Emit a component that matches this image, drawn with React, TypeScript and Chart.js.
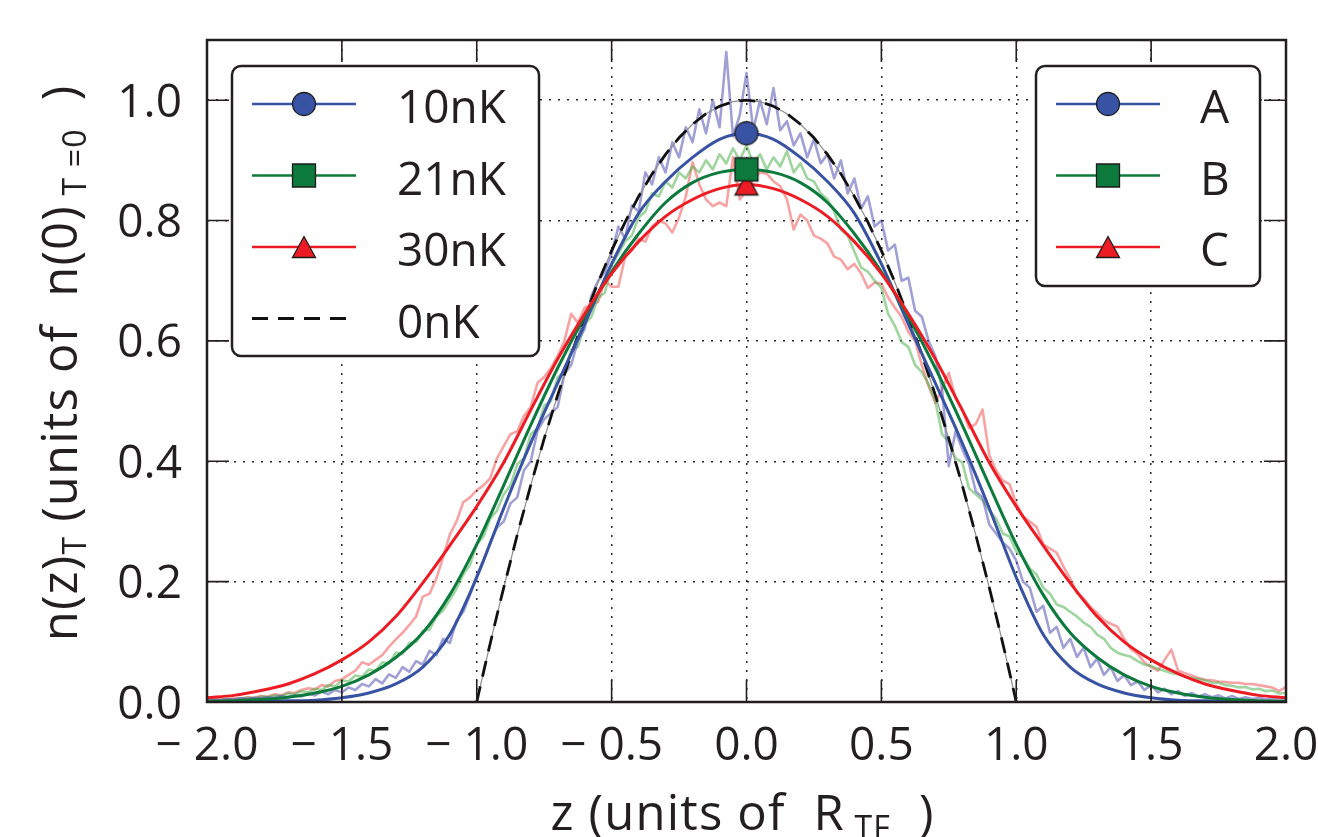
import { useEffect, useRef } from 'react';
import { Chart, registerables } from 'chart.js';

Chart.register(...registerables);

// Measured axial density profiles, sampled every PROFILE_DZ from PROFILE_Z0
const PROFILE_Z0 = -2;
const PROFILE_DZ = 0.025;

const PROFILE_A = [
  0.003, 0.004, 0.003, 0.005, 0.004, 0.006, 0.005, 0.007, 0.006, 0.008,
  0.007, 0.010, 0.008, 0.011, 0.009, 0.014, 0.011, 0.017, 0.013, 0.020,
  0.016, 0.024, 0.020, 0.030, 0.026, 0.038, 0.031, 0.046, 0.040, 0.058,
  0.050, 0.068, 0.062, 0.085, 0.078, 0.105, 0.098, 0.135, 0.150, 0.178,
  0.210, 0.236, 0.265, 0.290, 0.300, 0.330, 0.340, 0.385, 0.400, 0.450,
  0.470, 0.480, 0.490, 0.545, 0.560, 0.600, 0.620, 0.675, 0.700, 0.715,
  0.745, 0.790, 0.770, 0.825, 0.815, 0.880, 0.860, 0.905, 0.880, 0.930,
  0.905, 0.955, 0.930, 0.985, 0.945, 1.000, 0.955, 1.080, 0.940, 0.975,
  1.045,
  0.950, 1.000, 0.960, 1.020, 0.950, 0.965, 0.925, 0.945, 0.905, 0.935,
  0.895, 0.910, 0.870, 0.900, 0.845, 0.870, 0.820, 0.840, 0.790, 0.800,
  0.750, 0.760, 0.700, 0.705, 0.650, 0.640, 0.600, 0.575, 0.520, 0.392,
  0.450, 0.420, 0.395, 0.350, 0.340, 0.295, 0.280, 0.265, 0.255, 0.235,
  0.200, 0.190, 0.150, 0.160, 0.115, 0.125, 0.090, 0.105, 0.075, 0.090,
  0.058, 0.072, 0.045, 0.058, 0.035, 0.045, 0.028, 0.034, 0.020, 0.028,
  0.016, 0.022, 0.013, 0.018, 0.010, 0.015, 0.009, 0.013, 0.008, 0.011,
  0.006, 0.010, 0.005, 0.008, 0.005, 0.007, 0.004, 0.006, 0.004, 0.004,
];

const PROFILE_B = [
  0.003, 0.004, 0.003, 0.005, 0.004, 0.006, 0.007, 0.006, 0.009, 0.008,
  0.011, 0.010, 0.014, 0.013, 0.018, 0.016, 0.022, 0.020, 0.028, 0.026,
  0.036, 0.034, 0.044, 0.042, 0.054, 0.052, 0.066, 0.064, 0.082, 0.080,
  0.098, 0.100, 0.118, 0.120, 0.142, 0.152, 0.170, 0.188, 0.212, 0.228,
  0.262, 0.275, 0.305, 0.318, 0.345, 0.360, 0.395, 0.405, 0.445, 0.455,
  0.492, 0.500, 0.540, 0.548, 0.585, 0.590, 0.628, 0.640, 0.672, 0.680,
  0.725, 0.745, 0.765, 0.775, 0.805, 0.815, 0.845, 0.840, 0.865, 0.855,
  0.880, 0.870, 0.890, 0.880, 0.900, 0.885, 0.910, 0.895, 0.920, 0.900,
  0.925,
  0.895, 0.910, 0.885, 0.905, 0.890, 0.915, 0.880, 0.895, 0.870, 0.865,
  0.845, 0.835, 0.815, 0.785, 0.775, 0.748, 0.722, 0.715, 0.700, 0.688,
  0.645, 0.625, 0.598, 0.590, 0.560, 0.548, 0.528, 0.500, 0.445, 0.432,
  0.405, 0.398, 0.355, 0.345, 0.335, 0.318, 0.305, 0.280, 0.275, 0.250,
  0.240, 0.222, 0.212, 0.190, 0.180, 0.162, 0.158, 0.150, 0.142, 0.132,
  0.125, 0.112, 0.105, 0.090, 0.082, 0.078, 0.075, 0.068, 0.062, 0.060,
  0.055, 0.052, 0.048, 0.046, 0.042, 0.040, 0.038, 0.036, 0.032, 0.032,
  0.028, 0.027, 0.024, 0.025, 0.021, 0.022, 0.018, 0.019, 0.014, 0.015,
];

const PROFILE_C = [
  0.004, 0.003, 0.005, 0.004, 0.006, 0.005, 0.008, 0.007, 0.010, 0.009,
  0.013, 0.011, 0.016, 0.015, 0.020, 0.023, 0.021, 0.028, 0.026, 0.035,
  0.038, 0.045, 0.052, 0.066, 0.062, 0.070, 0.078, 0.092, 0.104, 0.115,
  0.128, 0.142, 0.175, 0.180, 0.205, 0.240, 0.278, 0.300, 0.332, 0.340,
  0.352, 0.360, 0.372, 0.405, 0.425, 0.445, 0.450, 0.475, 0.490, 0.530,
  0.540, 0.555, 0.575, 0.600, 0.645, 0.630, 0.655, 0.660, 0.665, 0.700,
  0.690, 0.690, 0.740, 0.750, 0.770, 0.765, 0.790, 0.800, 0.795, 0.780,
  0.805, 0.840, 0.897, 0.860, 0.835, 0.824, 0.830, 0.824, 0.905, 0.835,
  0.850,
  0.868, 0.880, 0.878, 0.865, 0.857, 0.835, 0.785, 0.810, 0.800, 0.775,
  0.770, 0.762, 0.740, 0.735, 0.719, 0.728, 0.712, 0.688, 0.697, 0.695,
  0.672, 0.655, 0.640, 0.615, 0.600, 0.560, 0.525, 0.497, 0.520, 0.547,
  0.505, 0.486, 0.455, 0.462, 0.486, 0.410, 0.385, 0.368, 0.362, 0.330,
  0.308, 0.300, 0.291, 0.262, 0.255, 0.248, 0.225, 0.205, 0.181, 0.172,
  0.158, 0.148, 0.136, 0.130, 0.125, 0.105, 0.088, 0.080, 0.066, 0.058,
  0.052, 0.070, 0.087, 0.052, 0.048, 0.044, 0.040, 0.037, 0.036, 0.034,
  0.033, 0.032, 0.032, 0.030, 0.030, 0.028, 0.026, 0.024, 0.018, 0.025,
];

// Fitted finite-temperature profiles
const FIT_Z = [
  -2.0, -1.9, -1.8, -1.7, -1.6, -1.5, -1.4, -1.3, -1.2, -1.1, -1.0,
  -0.9, -0.8, -0.7, -0.6, -0.5, -0.4, -0.3, -0.2, -0.1, 0.0,
  0.1, 0.2, 0.3, 0.4, 0.5, 0.6, 0.7, 0.8, 0.9, 1.0,
  1.1, 1.2, 1.3, 1.4, 1.5, 1.6, 1.7, 1.8, 1.9, 2.0,
];
const FIT_A = [
  0.000, 0.000, 0.001, 0.002, 0.003, 0.007, 0.015, 0.030, 0.058, 0.112, 0.207,
  0.322, 0.430, 0.530, 0.628, 0.728, 0.812, 0.865, 0.905, 0.935, 0.945,
  0.935, 0.905, 0.865, 0.812, 0.728, 0.628, 0.530, 0.430, 0.322, 0.207,
  0.112, 0.058, 0.030, 0.015, 0.007, 0.003, 0.002, 0.001, 0.000, 0.000,
];
const FIT_B = [
  0.001, 0.002, 0.004, 0.008, 0.015, 0.026, 0.045, 0.074, 0.115, 0.178, 0.262,
  0.360, 0.460, 0.555, 0.640, 0.715, 0.778, 0.830, 0.863, 0.880, 0.885,
  0.880, 0.863, 0.830, 0.778, 0.715, 0.640, 0.555, 0.460, 0.360, 0.262,
  0.178, 0.115, 0.074, 0.045, 0.026, 0.015, 0.008, 0.004, 0.002, 0.001,
];
const FIT_C = [
  0.007, 0.011, 0.019, 0.030, 0.047, 0.070, 0.100, 0.142, 0.198, 0.260, 0.325,
  0.398, 0.485, 0.570, 0.645, 0.712, 0.765, 0.807, 0.835, 0.853, 0.860,
  0.853, 0.835, 0.807, 0.765, 0.712, 0.645, 0.570, 0.485, 0.398, 0.325,
  0.260, 0.198, 0.142, 0.100, 0.070, 0.047, 0.030, 0.019, 0.011, 0.007,
];
const CENTER_INDEX = 20;

// Zero-temperature Thomas-Fermi profile
const TF_Z = [
  -1, -0.998, -0.995, -0.99, -0.98, -0.97, -0.96, -0.94, -0.92, -0.9,
  -0.85, -0.8, -0.75, -0.7, -0.65, -0.6, -0.55, -0.5, -0.45, -0.4, -0.35,
  -0.3, -0.25, -0.2, -0.15, -0.1, -0.05, 0,
  0.05, 0.1, 0.15, 0.2, 0.25, 0.3, 0.35, 0.4, 0.45, 0.5, 0.55, 0.6, 0.65,
  0.7, 0.75, 0.8, 0.85, 0.9, 0.92, 0.94, 0.96, 0.97, 0.98, 0.99, 0.995, 0.998, 1,
];
const TF_N = [
  0, 0.004, 0.00998, 0.0199, 0.0396, 0.0591, 0.0784, 0.1164, 0.1536, 0.19,
  0.2775, 0.36, 0.4375, 0.51, 0.5775, 0.64, 0.6975, 0.75, 0.7975, 0.84, 0.8775,
  0.91, 0.9375, 0.96, 0.9775, 0.99, 0.9975, 1,
  0.9975, 0.99, 0.9775, 0.96, 0.9375, 0.91, 0.8775, 0.84, 0.7975, 0.75, 0.6975, 0.64, 0.5775,
  0.51, 0.4375, 0.36, 0.2775, 0.19, 0.1536, 0.1164, 0.0784, 0.0591, 0.0396, 0.0199, 0.00998, 0.004, 0,
];

const X_TICKS = [-2, -1.5, -1, -0.5, 0, 0.5, 1, 1.5, 2];
const X_TICK_LABELS = ['\u2212 2.0', '\u2212 1.5', '\u2212 1.0', '\u2212 0.5', '0.0', '0.5', '1.0', '1.5', '2.0'];
const Y_TICKS = [0, 0.2, 0.4, 0.6, 0.8, 1.0];
const Y_TICK_LABELS = ['0.0', '0.2', '0.4', '0.6', '0.8', '1.0'];

const TEMPERATURE_LABELS = ['10nK', '21nK', '30nK', '0nK'];
const SAMPLE_LABELS = ['A', 'B', 'C'];

const INK = '#231f20';
const BLUE = '#3953a4';
const GREEN = '#0c7a3c';
const RED = '#ed1c24';
const FONT = '"Open Sans", "DejaVu Sans", sans-serif';
const TF_DASH = [16, 10];

type MarkerKind = 'circle' | 'square' | 'triangle';

function traceMarker(ctx: CanvasRenderingContext2D, kind: MarkerKind, cx: number, cy: number) {
  ctx.beginPath();
  if (kind === 'circle') {
    ctx.arc(cx, cy, 11.5, 0, Math.PI * 2);
  } else if (kind === 'square') {
    ctx.rect(cx - 11.5, cy - 11.5, 23, 23);
  } else {
    ctx.moveTo(cx, cy - 10.5);
    ctx.lineTo(cx + 11.5, cy + 10.5);
    ctx.lineTo(cx - 11.5, cy + 10.5);
    ctx.closePath();
  }
}

function paintMarker(ctx: CanvasRenderingContext2D, kind: MarkerKind, cx: number, cy: number, color: string) {
  traceMarker(ctx, kind, cx, cy);
  ctx.fillStyle = color;
  ctx.fill();
  ctx.lineWidth = 1.3;
  ctx.strokeStyle = '#1c1c1c';
  ctx.stroke();
}

function markerImage(kind: MarkerKind, color: string): HTMLCanvasElement {
  const c = document.createElement('canvas');
  c.width = 30;
  c.height = 30;
  const g = c.getContext('2d')!;
  paintMarker(g, kind, 15, 15, color);
  return c;
}

type Seg = { text: string; size: number; dy: number };

function drawRich(ctx: CanvasRenderingContext2D, segs: Seg[], cx: number, baseline: number, spacing: number) {
  ctx.textAlign = 'left';
  ctx.textBaseline = 'alphabetic';
  (ctx as any).letterSpacing = `${spacing}px`;
  const widths = segs.map((s) => {
    ctx.font = `${s.size}px ${FONT}`;
    return ctx.measureText(s.text).width;
  });
  const total = widths.reduce((a, b) => a + b, 0);
  let x = cx - total / 2;
  segs.forEach((s, i) => {
    ctx.font = `${s.size}px ${FONT}`;
    ctx.fillText(s.text, x, baseline + s.dy);
    x += widths[i];
  });
  (ctx as any).letterSpacing = '0px';
}

type LegendRow = { label: string; color: string; marker?: MarkerKind; dash?: number[] };

function drawLegend(
  ctx: CanvasRenderingContext2D,
  box: { x: number; y: number; w: number; h: number },
  rows: LegendRow[],
  lineX0: number,
  lineX1: number,
  textX: number,
) {
  ctx.save();
  ctx.beginPath();
  ctx.roundRect(box.x, box.y, box.w, box.h, 9);
  ctx.fillStyle = '#ffffff';
  ctx.fill();
  ctx.lineWidth = 2.5;
  ctx.strokeStyle = INK;
  ctx.stroke();
  rows.forEach((r, i) => {
    const y = box.y + 38 + i * 71.5;
    ctx.beginPath();
    ctx.setLineDash(r.dash ?? []);
    ctx.moveTo(lineX0, y);
    ctx.lineTo(lineX1, y);
    ctx.strokeStyle = r.color;
    ctx.lineWidth = r.dash ? 2.8 : 2.6;
    ctx.stroke();
    ctx.setLineDash([]);
    if (r.marker) paintMarker(ctx, r.marker, (lineX0 + lineX1) / 2, y, r.color);
    ctx.font = `46px ${FONT}`;
    ctx.fillStyle = INK;
    ctx.textAlign = 'left';
    ctx.textBaseline = 'alphabetic';
    ctx.fillText(r.label, textX, y + 19);
  });
  ctx.restore();
}

const decorPlugin = {
  id: 'figureDecor',
  afterDraw(chart: Chart) {
    const ctx = chart.ctx;
    const { left, top, right, bottom } = chart.chartArea;
    const xs = chart.scales.x;
    const ys = chart.scales.y;
    ctx.save();

    // axes frame
    ctx.strokeStyle = INK;
    ctx.lineWidth = 2.5;
    ctx.strokeRect(left, top, right - left, bottom - top);

    // inward tick marks on all four sides
    ctx.lineWidth = 1.6;
    ctx.beginPath();
    X_TICKS.forEach((v) => {
      const px = xs.getPixelForValue(v);
      ctx.moveTo(px, bottom);
      ctx.lineTo(px, bottom - 22);
      ctx.moveTo(px, top);
      ctx.lineTo(px, top + 22);
    });
    Y_TICKS.forEach((v) => {
      const py = ys.getPixelForValue(v);
      ctx.moveTo(left, py);
      ctx.lineTo(left + 22, py);
      ctx.moveTo(right, py);
      ctx.lineTo(right - 22, py);
    });
    ctx.stroke();

    // tick labels
    ctx.fillStyle = INK;
    ctx.font = `46px ${FONT}`;
    ctx.textBaseline = 'alphabetic';
    ctx.textAlign = 'right';
    Y_TICKS.forEach((v, i) => {
      ctx.fillText(Y_TICK_LABELS[i], left - 25, ys.getPixelForValue(v) + 16.5);
    });
    ctx.textAlign = 'center';
    X_TICKS.forEach((v, i) => {
      ctx.fillText(X_TICK_LABELS[i], xs.getPixelForValue(v), bottom + 58);
    });

    // axis titles
    drawRich(
      ctx,
      [
        { text: 'z (units of  R', size: 49, dy: 0 },
        { text: ' TF', size: 32, dy: 9 },
        { text: '  )', size: 49, dy: 0 },
      ],
      (left + right) / 2 - 4,
      bottom + 128,
      1.2,
    );
    ctx.save();
    ctx.translate(77, (top + bottom) / 2 - 8);
    ctx.rotate(-Math.PI / 2);
    drawRich(
      ctx,
      [
        { text: 'n(z)', size: 49, dy: 0 },
        { text: 'T', size: 32, dy: 9 },
        { text: ' (units of  n(0)', size: 49, dy: 0 },
        { text: ' T =0', size: 32, dy: 9 },
        { text: '  )', size: 49, dy: 0 },
      ],
      0,
      0,
      1.2,
    );
    ctx.restore();

    // legends
    drawLegend(
      ctx,
      { x: 232, y: 66, w: 307, h: 290 },
      [
        { label: TEMPERATURE_LABELS[0], color: BLUE, marker: 'circle' },
        { label: TEMPERATURE_LABELS[1], color: GREEN, marker: 'square' },
        { label: TEMPERATURE_LABELS[2], color: RED, marker: 'triangle' },
        { label: TEMPERATURE_LABELS[3], color: '#111111', dash: TF_DASH },
      ],
      252,
      356,
      397,
    );
    drawLegend(
      ctx,
      { x: 1036, y: 66, w: 224, h: 220 },
      [
        { label: SAMPLE_LABELS[0], color: BLUE, marker: 'circle' },
        { label: SAMPLE_LABELS[1], color: GREEN, marker: 'square' },
        { label: SAMPLE_LABELS[2], color: RED, marker: 'triangle' },
      ],
      1056,
      1160,
      1200,
    );
    ctx.restore();
  },
};

const profilePoints = (vals: number[]) =>
  vals.map((y, i) => ({ x: PROFILE_Z0 + i * PROFILE_DZ, y }));
const pairPoints = (zs: number[], ns: number[]) => zs.map((x, i) => ({ x, y: ns[i] }));

export default function App() {
  const canvasRef = useRef<HTMLCanvasElement>(null);

  useEffect(() => {
    const canvas = canvasRef.current;
    if (!canvas) return;

    const noisy = (vals: number[], color: string) => ({
      data: profilePoints(vals),
      borderColor: color,
      borderWidth: 2.6,
      borderJoinStyle: 'round' as const,
      pointRadius: 0,
      tension: 0,
      order: 5,
    });
    const fit = (vals: number[], color: string) => ({
      data: pairPoints(FIT_Z, vals),
      borderColor: color,
      borderWidth: 3,
      pointRadius: 0,
      cubicInterpolationMode: 'monotone' as const,
      order: 2,
    });
    const peak = (vals: number[], kind: MarkerKind, color: string) => ({
      data: [{ x: FIT_Z[CENTER_INDEX], y: vals[CENTER_INDEX] }],
      showLine: false,
      pointStyle: markerImage(kind, color),
      pointRadius: 12,
      order: 1,
    });

    const chart = new Chart(canvas, {
      type: 'line',
      data: {
        datasets: [
          noisy(PROFILE_A, 'rgba(72, 72, 178, 0.52)'),
          noisy(PROFILE_B, 'rgba(70, 175, 70, 0.52)'),
          noisy(PROFILE_C, 'rgba(240, 62, 62, 0.48)'),
          {
            data: pairPoints(TF_Z, TF_N),
            borderColor: '#8c8c8c',
            borderWidth: 1.2,
            pointRadius: 0,
            tension: 0,
            order: 4,
          },
          {
            data: pairPoints(TF_Z, TF_N),
            borderColor: '#111111',
            borderWidth: 2.8,
            borderDash: TF_DASH,
            pointRadius: 0,
            tension: 0,
            order: 3,
          },
          fit(FIT_C, RED),
          fit(FIT_B, GREEN),
          fit(FIT_A, BLUE),
          peak(FIT_A, 'circle', BLUE),
          peak(FIT_B, 'square', GREEN),
          peak(FIT_C, 'triangle', RED),
        ],
      },
      options: {
        animation: false,
        responsive: false,
        maintainAspectRatio: false,
        events: [],
        layout: { padding: { left: 207, right: 32, top: 40, bottom: 135 } },
        plugins: {
          legend: { display: false },
          tooltip: { enabled: false },
        },
        scales: {
          x: {
            type: 'linear',
            min: -2,
            max: 2,
            ticks: { display: false, stepSize: 0.5 },
            grid: { color: '#2a2a2a', lineWidth: 1.5, drawTicks: false },
            border: { display: false, dash: [2, 7] },
            afterFit: (s: any) => {
              s.height = 0;
            },
          },
          y: {
            type: 'linear',
            min: 0,
            max: 1.1,
            ticks: { display: false, stepSize: 0.2 },
            grid: { color: '#2a2a2a', lineWidth: 1.5, drawTicks: false },
            border: { display: false, dash: [2, 7] },
            afterFit: (s: any) => {
              s.width = 0;
            },
          },
        },
      },
      plugins: [decorPlugin],
    });

    return () => chart.destroy();
  }, []);

  return (
    <div style={{ position: 'fixed', left: 0, top: 0, width: 1318, height: 837, background: '#ffffff' }}>
      <canvas ref={canvasRef} width={1318} height={837} style={{ display: 'block' }} />
    </div>
  );
}
